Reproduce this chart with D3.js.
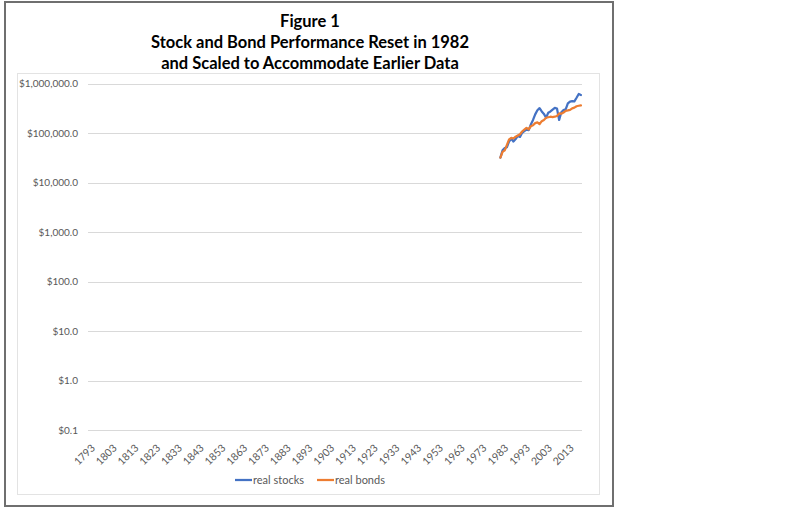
<!DOCTYPE html>
<html>
<head>
<meta charset="utf-8">
<script src="https://cdn.jsdelivr.net/npm/d3@7"></script>
<style>
  body { margin: 0; background: #fff; }
  svg { display: block; }
</style>
</head>
<body>
<svg width="800" height="511"></svg>
<script>
// chart data
var titleLines = ["Figure 1", "Stock and Bond Performance Reset in 1982", "and Scaled to Accommodate Earlier Data"];
var firstYear = 1793, lastYear = 2019;
var dataYears = d3.range(1982, 2020);
var realStocks = [32000, 45000, 50000, 52000, 68000, 78000, 68000, 76000, 88000, 84000,
                  102000, 110000, 118000, 115000, 150000, 185000, 240000, 290000, 320000, 275000,
                  245000, 205000, 260000, 275000, 300000, 325000, 315000, 185000, 265000, 292000,
                  302000, 400000, 436000, 446000, 440000, 520000, 620000, 590000];
var realBonds = [32000, 42000, 45000, 58000, 75000, 80000, 78000, 85000, 90000, 95000,
                 108000, 118000, 128000, 120000, 138000, 145000, 160000, 165000, 152000, 175000,
                 185000, 205000, 210000, 215000, 212000, 215000, 222000, 250000, 248000, 262000,
                 282000, 288000, 296000, 318000, 328000, 350000, 358000, 365000];
var yTicks = [0.1, 1, 10, 100, 1000, 10000, 100000, 1000000];
var seriesNames = ["real stocks", "real bonds"];
var colors = ["#4472C4", "#ED7D31"];

var plotLeft = 88, plotRight = 582, plotTop = 83.7, plotBottom = 430;
var font = "Lato, 'Open Sans', sans-serif";

var svg = d3.select("svg");

// frames
svg.append("rect").attr("x", 5).attr("y", 2).attr("width", 608).attr("height", 504)
  .attr("fill", "#fff").attr("stroke", "#6f6f6f").attr("stroke-width", 2);
svg.append("rect").attr("x", 17.5).attr("y", 73.5).attr("width", 582).attr("height", 421)
  .attr("fill", "none").attr("stroke", "#e3e3e3").attr("stroke-width", 1);

// title
svg.append("g").selectAll("text").data(titleLines).enter().append("text")
  .attr("x", 310).attr("y", function(d, i) { return 27 + i * 21; })
  .attr("text-anchor", "middle")
  .style("font-family", font)
  .style("font-weight", "bold").style("font-size", "16.5px").attr("fill", "#000")
  .text(function(d) { return d; });

var years = d3.range(firstYear, lastYear + 1);
var x = d3.scaleBand().domain(years).range([plotLeft, plotRight]);
var y = d3.scaleLog().domain([0.1, 1000000]).range([plotBottom, plotTop]);

// grid lines
svg.append("g").selectAll("line").data(yTicks).enter().append("line")
  .attr("x1", plotLeft).attr("x2", plotRight)
  .attr("y1", function(d) { return Math.round(y(d)) + 0.5; })
  .attr("y2", function(d) { return Math.round(y(d)) + 0.5; })
  .attr("stroke", "#d9d9d9").attr("stroke-width", 1);

// y axis
var yAxis = d3.axisLeft(y).tickValues(yTicks).tickSize(0).tickPadding(10)
  .tickFormat(function(d) { return "$" + d3.format(",.1f")(d); });
var gy = svg.append("g").attr("transform", "translate(" + plotLeft + ",0)").call(yAxis);
gy.select(".domain").remove();
gy.selectAll("text").attr("fill", "#595959")
  .style("font-family", font).style("font-size", "10px");

// x axis
var xTicks = years.filter(function(d) { return (d - firstYear) % 10 === 0; });
var xAxis = d3.axisBottom(x).tickValues(xTicks).tickSize(0).tickPadding(0);
var gx = svg.append("g").attr("transform", "translate(0," + plotBottom + ")").call(xAxis);
gx.select(".domain").remove();
gx.selectAll("text")
  .attr("fill", "#595959")
  .style("font-family", font).style("font-size", "10.5px")
  .attr("text-anchor", "end").attr("y", 0).attr("dy", "0.35em")
  .attr("transform", "translate(4,16) rotate(-45)");

// lines
var line = d3.line()
  .x(function(d, i) { return x(dataYears[i]) + x.bandwidth() / 2; })
  .y(function(d) { return y(d); });

[realStocks, realBonds].forEach(function(s, k) {
  svg.append("path").datum(s)
    .attr("fill", "none").attr("stroke", colors[k]).attr("stroke-width", 2.25)
    .attr("stroke-linejoin", "round").attr("stroke-linecap", "round")
    .attr("d", line);
});

// legend
var legend = svg.append("g").attr("transform", "translate(235,480)");
var legendX = [0, 82];
seriesNames.forEach(function(name, k) {
  var g = legend.append("g").attr("transform", "translate(" + legendX[k] + ",0)");
  g.append("line").attr("x1", 0).attr("x2", 17).attr("y1", 0).attr("y2", 0)
    .attr("stroke", colors[k]).attr("stroke-width", 2.25);
  g.append("text").attr("x", 18).attr("y", 0).attr("dy", "0.35em")
    .attr("fill", "#595959")
    .style("font-family", font).style("font-size", "11px")
    .text(name);
});
</script>
</body>
</html>
